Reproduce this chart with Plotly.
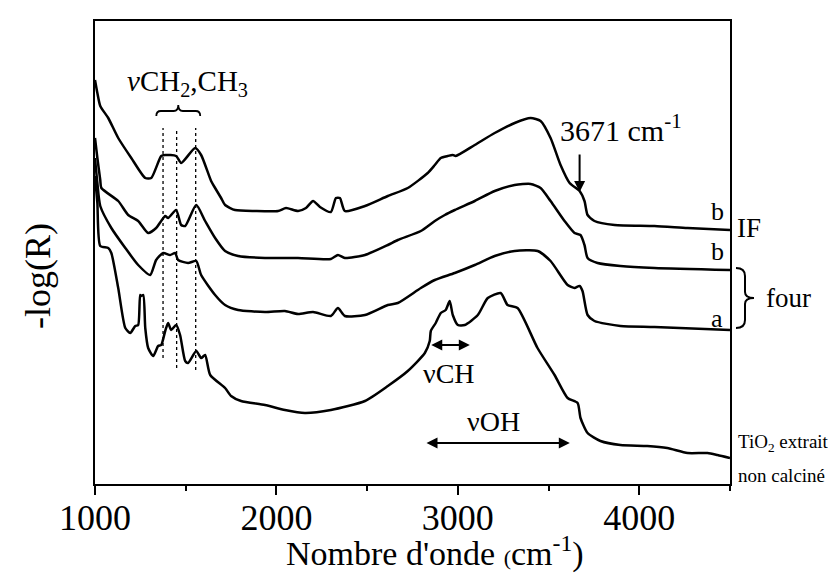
import plotly.graph_objects as go

# ---- data (wavenumber cm-1, -log(R) arbitrary units, curves offset as in figure) ----
wn_if_b = [1000, 1013, 1029, 1073, 1128, 1200, 1277, 1310, 1365, 1387, 1447, 1475, 1552, 1585, 1640,
           1662, 1695, 1717, 1772, 1882, 2009, 2053, 2119, 2163, 2202, 2240, 2300, 2328, 2350, 2377,
           2488, 2614, 2724, 2834, 2873, 2906, 2944, 2972, 2988, 3093, 3203, 3313, 3401, 3456, 3511,
           3566, 3616, 3671, 3698, 3715, 3753, 3864, 4084, 4266, 4500]
y_if_b = [404, 391, 378, 366, 346, 326, 306, 306, 328, 329, 328, 321, 336, 329, 303,
          296, 286, 279, 274, 273, 273, 276, 273, 276, 283, 277, 272, 286, 286, 273,
          278, 288, 296, 311, 319, 326, 328, 329, 328, 339, 351, 361, 366, 363, 346,
          319, 301, 293, 283, 269, 263, 259, 258, 256, 254]

wn_four_b = [1000, 1013, 1029, 1035, 1128, 1183, 1238, 1293, 1337, 1365, 1387, 1403, 1447, 1475, 1497,
             1558, 1607, 1662, 1717, 1789, 1937, 2119, 2300, 2339, 2377, 2488, 2614, 2669, 2796, 2873,
             2928, 2983, 3093, 3203, 3313, 3401, 3456, 3511, 3588, 3643, 3676, 3698, 3715, 3770, 3896,
             4084, 4500]
y_four_b = [346, 326, 304, 296, 283, 269, 263, 251, 256, 263, 268, 266, 274, 259, 258,
            279, 263, 246, 233, 228, 226, 226, 225, 229, 226, 229, 239, 244, 253, 263,
            269, 274, 283, 293, 299, 300, 296, 283, 263, 251, 249, 239, 226, 221, 218,
            216, 214]

wn_four_a = [1000, 1013, 1029, 1090, 1167, 1238, 1304, 1337, 1376, 1414, 1442, 1458, 1513, 1558, 1585,
             1662, 1717, 1789, 1937, 2047, 2119, 2202, 2300, 2339, 2377, 2488, 2614, 2669, 2796, 2873,
             2983, 3093, 3203, 3313, 3440, 3511, 3605, 3643, 3671, 3687, 3715, 3753, 3896, 4084, 4500]
y_four_a = [326, 301, 278, 256, 236, 219, 209, 224, 231, 229, 231, 224, 221, 223, 209,
            189, 179, 174, 172, 173, 170, 172, 168, 176, 168, 169, 179, 181, 196, 204,
            211, 219, 228, 233, 233, 223, 199, 196, 198, 193, 169, 163, 158, 157, 154]

wn_nc = [1000, 1013, 1029, 1073, 1090, 1128, 1167, 1194, 1222, 1238, 1249, 1255, 1266, 1277, 1293,
         1321, 1348, 1365, 1387, 1403, 1420, 1447, 1469, 1497, 1513, 1558, 1585, 1607, 1635, 1717,
         1750, 1805, 1937, 2047, 2157, 2300, 2488, 2614, 2724, 2818, 2845, 2851, 2878, 2906, 2933,
         2955, 2972, 3000, 3038, 3110, 3165, 3236, 3274, 3329, 3439, 3533, 3605, 3660, 3676, 3715,
         3786, 3896, 4044, 4154, 4266, 4376, 4431, 4500]
y_nc = [308, 281, 238, 236, 231, 196, 156, 151, 158, 159, 189, 188, 189, 156, 136,
        128, 138, 139, 153, 161, 154, 159, 149, 123, 121, 133, 126, 129, 109, 96,
        88, 83, 79, 74, 71, 74, 83, 98, 113, 131, 143, 153, 161, 171, 174,
        183, 169, 159, 159, 169, 186, 191, 179, 176, 136, 109, 86, 81, 66, 51,
        43, 39, 38, 36, 31, 31, 29, 26]

x_ticks = [1000, 2000, 3000, 4000]
ch_lines = [1375, 1450, 1555]

FONT = "Liberation Serif"

fig = go.Figure()
for xs, ys in [(wn_if_b, y_if_b), (wn_four_b, y_four_b), (wn_four_a, y_four_a), (wn_nc, y_nc)]:
    fig.add_trace(go.Scatter(x=xs, y=ys, mode="lines", line=dict(color="black", width=2.5, shape="spline", smoothing=0.6),
                             showlegend=False, hoverinfo="skip"))

# dotted vertical guide lines
for xv, yb in zip(ch_lines, [126, 116, 114]):
    fig.add_shape(type="line", x0=xv, x1=xv, y0=yb, y1=356, xref="x", yref="y",
                  line=dict(color="black", width=1.3, dash="dot"))

# over-brace under the CH2,CH3 label
x0b, x1b, xcb = 1338, 1580, 1459
ye, ym, yt = 368, 373, 379
q = 25
brace = (f"M {x0b},{ye} Q {x0b},{ym} {x0b+q},{ym} L {xcb-q},{ym} Q {xcb},{ym} {xcb},{yt} "
         f"Q {xcb},{ym} {xcb+q},{ym} L {x1b-q},{ym} Q {x1b},{ym} {x1b},{ye}")
fig.add_shape(type="path", path=brace, xref="x", yref="y", line=dict(color="black", width=1.8))

# right curly brace for "four"
def px2paper(px):
    return (px - 87) / 635.0
bx0, bx1, bx2 = px2paper(728), px2paper(737), px2paper(746)
ytop, ybot, ymid = 216, 156, 186
rb = (f"M {bx0},{ytop} Q {bx1},{ytop} {bx1},{ytop-8} L {bx1},{ymid+6} Q {bx1},{ymid} {bx2},{ymid} "
      f"Q {bx1},{ymid} {bx1},{ymid-6} L {bx1},{ybot+8} Q {bx1},{ybot} {bx0},{ybot}")
fig.add_shape(type="path", path=rb, xref="paper", yref="y", line=dict(color="black", width=2))

ann = []
def txt(x, y, s, size, xref="x", yref="y", xanchor="center", yanchor="middle", **kw):
    ann.append(dict(x=x, y=y, text=s, xref=xref, yref=yref, showarrow=False, xanchor=xanchor,
                    yanchor=yanchor, font=dict(family=FONT, size=size, color="black"), **kw))

txt(1508, 401, "<i>ν</i>CH<sub>2</sub>,CH<sub>3</sub>", 29)
txt(3900, 356, "3671 cm<sup>-1</sup>", 30)
txt(2951, 111, "νCH", 28)
txt(3199, 63, "νOH", 28)
txt(4430, 273, "b", 26)
txt(4430, 233, "b", 26)
txt(4430, 166, "a", 26)
txt(px2paper(727), 256, "IF", 27, xref="paper", xanchor="left")
txt(px2paper(756), 186, "four", 27, xref="paper", xanchor="left")
txt(px2paper(728), 41, "TiO<sub>2</sub> extrait", 19, xref="paper", xanchor="left")
txt(px2paper(728), 9, "non calciné", 19, xref="paper", xanchor="left")
# axis titles
txt(px2paper(427), (476 - 543) / 463.0, "Nombre d'onde <span style='font-size:22px'>(</span>cm<sup>-1</sup>)", 34,
    xref="paper", yref="paper")
txt(px2paper(30), 208, "-log(R)", 36, xref="paper", textangle=-90)

# arrows
def arrow(x, y, ax, ay, both=False):
    d = dict(x=x, y=y, ax=ax, ay=ay, xref="x", yref="y", axref="x", ayref="y", text="",
             showarrow=True, arrowhead=2, arrowsize=1.1, arrowwidth=2, arrowcolor="black",
             standoff=0, startstandoff=0)
    if both:
        d.update(arrowside="end+start", startarrowhead=2, startarrowsize=1.1)
    ann.append(d)

arrow(3671, 292, 3671, 331)
arrow(3066, 139, 2845, 139, both=True)
arrow(3617, 41, 2819, 41, both=True)

fig.update_layout(
    width=836, height=575,
    margin=dict(l=87, r=114, t=13, b=99),
    paper_bgcolor="white", plot_bgcolor="white",
    annotations=ann,
    xaxis=dict(range=[1000, 4500], tickvals=x_ticks, ticks="outside", ticklen=9, tickwidth=1.5,
               tickcolor="black", showline=True, linecolor="black", linewidth=2, mirror=True,
               showgrid=False, zeroline=False, ticklabelstandoff=-8,
               minor=dict(dtick=500, tick0=1000, ticks="outside", ticklen=5, tickwidth=1.5, tickcolor="black"),
               tickfont=dict(family=FONT, size=36, color="black")),
    yaxis=dict(range=[0, 463], showticklabels=False, ticks="", showline=True, linecolor="black",
               linewidth=2, mirror=True, showgrid=False, zeroline=False),
)
fig.write_html("out.html")
